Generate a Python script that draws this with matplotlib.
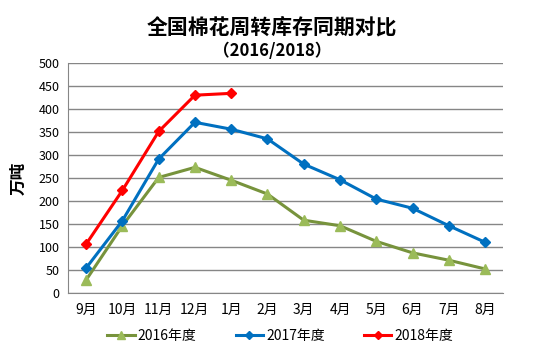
import matplotlib
matplotlib.use("Agg")
import matplotlib.pyplot as plt
import numpy as np

plt.rcParams["font.family"] = ["Noto Sans CJK SC", "DejaVu Sans"]

# 数据：月份与各年度库存（万吨）
MONTHS = ["9月", "10月", "11月", "12月", "1月", "2月", "3月", "4月",
          "5月", "6月", "7月", "8月"]
STOCK_2016 = [28, 146, 251, 273, 245, 215, 158, 146, 112, 87, 71, 52]
STOCK_2017 = [54, 157, 291, 371, 356, 335, 280, 246, 204, 184, 146, 110]
STOCK_2018 = [106, 223, 351, 430, 434]

fig = plt.figure(figsize=(5.44, 3.58), dpi=100)
ax = fig.add_axes([0.125, 0.182, 0.8, 0.642])

x = np.arange(len(MONTHS))
ax.plot(x, STOCK_2016, color="#77933C", linewidth=2.2, marker="^",
        markersize=7, markerfacecolor="#9BBB59", markeredgecolor="#9BBB59",
        label="2016年度")
ax.plot(x, STOCK_2017, color="#0070C0", linewidth=2.2, marker="D",
        markersize=5, markerfacecolor="#0070C0", markeredgecolor="#0070C0",
        label="2017年度")
ax.plot(x[:len(STOCK_2018)], STOCK_2018, color="#FF0000", linewidth=2.2,
        marker="D", markersize=5, label="2018年度")

ax.set_xlim(-0.5, len(MONTHS) - 0.5)
ax.set_ylim(0, 500)
ax.set_yticks(np.arange(0, 501, 50))
ax.set_xticks(x)
ax.set_xticklabels(MONTHS)
ax.tick_params(axis="y", length=0, labelsize=9, pad=6)
ax.tick_params(axis="x", length=0, labelsize=10, pad=7)
ax.yaxis.grid(True, color="#868686", linewidth=1.0)
ax.set_axisbelow(True)
for side in ["top", "right"]:
    ax.spines[side].set_visible(False)
ax.spines["left"].set_color("#868686")
ax.spines["bottom"].set_color("#868686")

ax.set_ylabel("万吨", fontsize=12, fontweight="bold", labelpad=8)

fig.text(0.5, 0.925, "全国棉花周转库存同期对比", ha="center", va="center",
         fontsize=15, fontweight="bold")
fig.text(0.5, 0.858, "\uff082016/2018\uff09", ha="center", va="center",
         fontsize=12, fontweight="bold")

fig.legend(loc="center", bbox_to_anchor=(0.515, 0.062), ncol=3, frameon=False,
           fontsize=10, handlelength=2.0, columnspacing=2.8,
           handletextpad=0.2, markerscale=0.8)

fig.savefig("out.png", dpi=100)
